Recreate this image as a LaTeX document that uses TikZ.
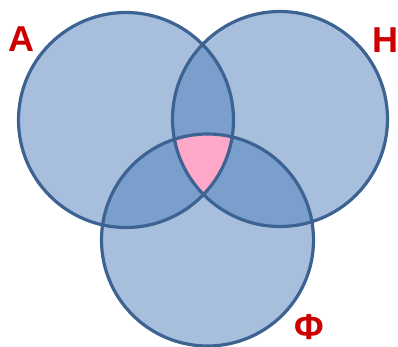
\documentclass[tikz,border=0pt]{standalone}
\usepackage{fontspec}
\setmainfont{Liberation Sans}
\definecolor{fillL}{RGB}{168,190,221}
\definecolor{fillD}{RGB}{122,159,204}
\definecolor{edge}{RGB}{60,99,145}
\definecolor{pinkR}{RGB}{253,168,200}
\definecolor{lab}{RGB}{204,0,0}
\begin{document}
\begin{tikzpicture}[x=1pt,y=1pt,
  setlabel/.style={text=lab,font=\bfseries\fontsize{36}{36}\selectfont,inner sep=0pt},
  ring/.style={draw=edge,line width=3.2pt}]
\useasboundingbox (0,0) rectangle (398,347);
\coordinate (cA) at (126,227);
\coordinate (cH) at (280,228);
\coordinate (cF) at (207.5,107);
\def\rA{107.5}\def\rH{107.5}\def\rF{106}
% base fills
\fill[fillL] (cA) circle (\rA);
\fill[fillL] (cH) circle (\rH);
\fill[fillL] (cF) circle (\rF);
% pairwise overlaps
\begin{scope}
  \clip (cA) circle (\rA);
  \fill[fillD] (cH) circle (\rH);
  \fill[fillD] (cF) circle (\rF);
\end{scope}
\begin{scope}
  \clip (cH) circle (\rH);
  \fill[fillD] (cF) circle (\rF);
\end{scope}
% triple overlap
\begin{scope}
  \clip (cA) circle (\rA);
  \clip (cH) circle (\rH);
  \fill[pinkR] (cF) circle (\rF);
\end{scope}
% outlines
\draw[ring] (cA) circle (\rA);
\draw[ring] (cH) circle (\rH);
\draw[ring] (cF) circle (\rF);
% labels
\node[setlabel] (lA) at (21,308) {A};
\node[setlabel] (lH) at (385,307) {H};
\node[setlabel] (lF) at (309,20) {Φ};
\end{tikzpicture}
\end{document}
